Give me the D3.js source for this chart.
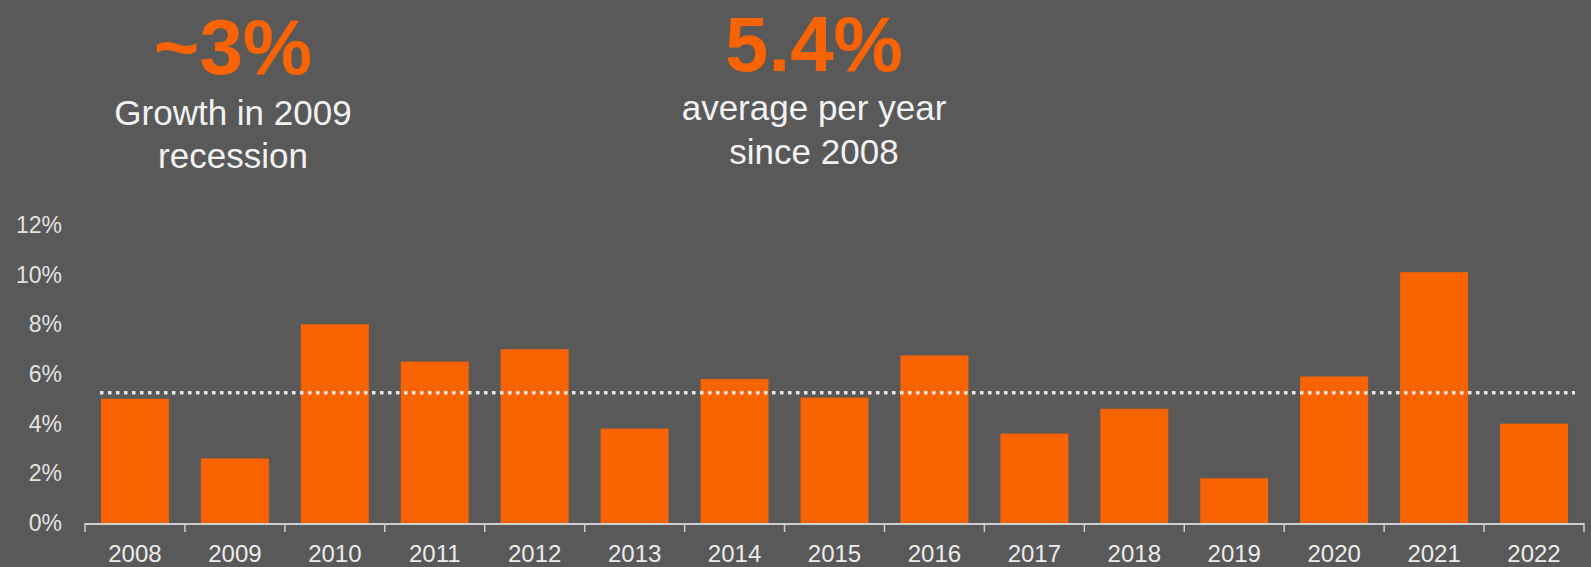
<!DOCTYPE html>
<html>
<head>
<meta charset="utf-8">
<script src="https://cdn.jsdelivr.net/npm/d3@7/dist/d3.min.js"></script>
<style>
  html, body { margin: 0; padding: 0; background: #595959; }
  svg { display: block; }
  text { font-family: "Liberation Sans", Arial, Helvetica, sans-serif; }
</style>
</head>
<body>
<svg id="chart" width="1591" height="567"></svg>
<script>
// ---- data ----
const years = ["2008","2009","2010","2011","2012","2013","2014","2015","2016","2017","2018","2019","2020","2021","2022"];
const growth = [5.0, 2.6, 8.0, 6.5, 7.0, 3.8, 5.8, 5.05, 6.75, 3.6, 4.6, 1.8, 5.9, 10.1, 4.0];
const averageLine = 5.25;
const yTicks = [0, 2, 4, 6, 8, 10, 12];
const headline1 = ["~3%", "Growth in 2009", "recession"];
const headline2 = ["5.4%", "average per year", "since 2008"];

// ---- layout ----
const W = 1591, H = 567;
const ORANGE = "#F96302";
const svg = d3.select("#chart");
svg.append("rect").attr("width", W).attr("height", H).attr("fill", "#595959");

const x = d3.scaleBand().domain(years).range([85, 1584]).paddingInner(0.32).paddingOuter(0.16);
const y = d3.scaleLinear().domain([0, 12]).range([523, 225]);

// headline blocks
function headline(lines, cx, by, b1, b2) {
  svg.append("text").attr("x", cx).attr("y", by)
    .attr("text-anchor", "middle").attr("font-size", 78).attr("font-weight", "bold")
    .attr("fill", ORANGE).text(lines[0]);
  svg.append("text").attr("x", cx).attr("y", b1)
    .attr("text-anchor", "middle").attr("font-size", 35)
    .attr("fill", "#f2f2f2").text(lines[1]);
  svg.append("text").attr("x", cx).attr("y", b2)
    .attr("text-anchor", "middle").attr("font-size", 35)
    .attr("fill", "#f2f2f2").text(lines[2]);
}
headline(headline1, 233, 74, 125, 168);
headline(headline2, 814, 71, 120, 164);

// y axis labels (no line)
const yAxis = d3.axisLeft(y).tickValues(yTicks).tickFormat(d => d + "%").tickSize(0).tickPadding(0);
const gy = svg.append("g").attr("transform", "translate(62,0)").call(yAxis);
gy.select(".domain").remove();
gy.selectAll("text").attr("font-size", 23).attr("fill", "#e2e2e2")
  .attr("font-family", "'Liberation Sans', Arial, sans-serif");

// bars
svg.append("g").selectAll("rect").data(years).join("rect")
  .attr("x", d => x(d))
  .attr("width", x.bandwidth())
  .attr("y", (d, i) => y(growth[i]))
  .attr("height", (d, i) => y(0) - y(growth[i]))
  .attr("fill", ORANGE);

// x axis
const gx = svg.append("g");
const x0 = x.range()[0], x1 = x.range()[1];
gx.append("line").attr("x1", x0).attr("x2", x1).attr("y1", y(0) + 1).attr("y2", y(0) + 1)
  .attr("stroke", "#cfcfcf").attr("stroke-width", 2);
const bounds = years.map(d => x(d) - x.step() * x.paddingOuter()).concat([x1]);
gx.selectAll("line.tick").data(bounds).join("line").attr("class", "tick")
  .attr("x1", d => d).attr("x2", d => d)
  .attr("y1", y(0)).attr("y2", y(0) + 9)
  .attr("stroke", "#cfcfcf").attr("stroke-width", 1.5);
gx.selectAll("text").data(years).join("text")
  .attr("x", d => x(d) + x.bandwidth() / 2)
  .attr("y", 562)
  .attr("text-anchor", "middle")
  .attr("font-size", 24)
  .attr("fill", "#ececec")
  .text(d => d);

// dotted average line
svg.append("line")
  .attr("x1", 100).attr("x2", 1575)
  .attr("y1", y(averageLine)).attr("y2", y(averageLine))
  .attr("stroke", "#e8e8e8").attr("stroke-width", 3.5)
  .attr("stroke-dasharray", "3.5 4.5");
</script>
</body>
</html>
